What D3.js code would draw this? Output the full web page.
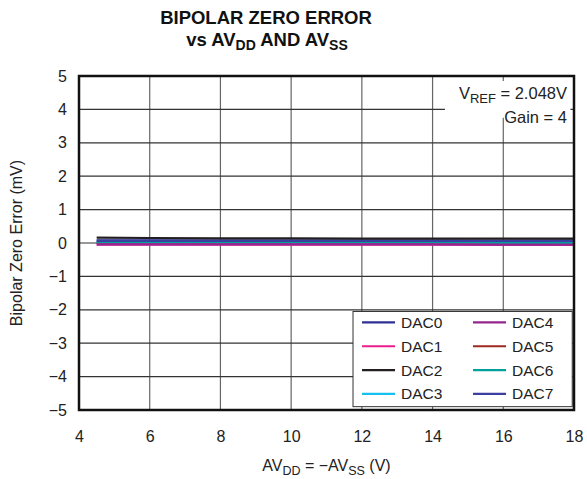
<!DOCTYPE html>
<html>
<head>
<meta charset="utf-8">
<script src="https://cdn.jsdelivr.net/npm/d3@7"></script>
<style>
  body { margin: 0; background: #fff; }
  svg { font-family: "Liberation Sans", Arial, Helvetica, sans-serif; }
</style>
</head>
<body>
<div id="chart"></div>
<script>
// supply voltage (V)
var supply = [4.5, 6, 8, 10, 12, 14, 16, 18]

// bipolar zero error (mV) per DAC channel
var dac0 = [0.07, 0.07, 0.07, 0.07, 0.07, 0.07, 0.07, 0.07]
var dac1 = [-0.05, -0.05, -0.05, -0.05, -0.05, -0.05, -0.06, -0.06]
var dac2 = [0.16, 0.15, 0.14, 0.14, 0.13, 0.13, 0.13, 0.13]
var dac3 = [0.03, 0.03, 0.03, 0.03, 0.03, 0.03, 0.03, 0.03]
var dac4 = [-0.04, -0.04, -0.04, -0.04, -0.04, -0.04, -0.05, -0.05]
var dac5 = [0.02, 0.02, 0.02, 0.02, 0.02, 0.02, 0.02, 0.02]
var dac6 = [0.01, 0.01, 0.01, 0.01, 0.01, 0.01, 0.0, 0.0]
var dac7 = [0.08, 0.08, 0.07, 0.07, 0.07, 0.07, 0.06, 0.07]

var names = ['DAC0', 'DAC1', 'DAC2', 'DAC3', 'DAC4', 'DAC5', 'DAC6', 'DAC7']
var colors = ['#2e3192', '#ec1c8c', '#231f20', '#17c0f0', '#93278f', '#9e2a22', '#00a19a', '#3b3fa0']
var seriesData = [dac0, dac1, dac2, dac3, dac4, dac5, dac6, dac7]

var xTicks = [4, 6, 8, 10, 12, 14, 16, 18]
var yTicks = [-5, -4, -3, -2, -1, 0, 1, 2, 3, 4, 5]

var W = 587, H = 479
var margin = { top: 76, right: 13, bottom: 69, left: 79 }
var w = W - margin.left - margin.right
var h = H - margin.top - margin.bottom

var svg = d3.select('#chart').append('svg')
  .attr('width', W)
  .attr('height', H)

// title
var title = svg.append('text')
  .attr('text-anchor', 'middle')
  .attr('font-weight', 'bold')
  .attr('font-size', 18.5)
  .attr('fill', '#111')
title.append('tspan').attr('x', 266).attr('y', 24).text('BIPOLAR ZERO ERROR')
var t2 = title.append('tspan').attr('x', 267).attr('y', 46)
t2.append('tspan').text('vs AV')
t2.append('tspan').attr('font-size', 14).attr('dy', 4).text('DD')
t2.append('tspan').attr('dy', -4).text(' AND AV')
t2.append('tspan').attr('font-size', 14).attr('dy', 4).text('SS')

var g = svg.append('g')
  .attr('transform', 'translate(' + margin.left + ',' + margin.top + ')')

var x = d3.scaleLinear().domain([4, 18]).range([0, w])
var y = d3.scaleLinear().domain([-5, 5]).range([h, 0])

// grid
g.append('g')
  .selectAll('line')
  .data(xTicks.slice(1, -1))
  .enter().append('line')
  .attr('x1', function(d) { return x(d) })
  .attr('x2', function(d) { return x(d) })
  .attr('y1', 0).attr('y2', h)
  .attr('stroke', '#666').attr('stroke-width', 1.2)

g.append('g')
  .selectAll('line')
  .data(yTicks.slice(1, -1))
  .enter().append('line')
  .attr('y1', function(d) { return y(d) })
  .attr('y2', function(d) { return y(d) })
  .attr('x1', 0).attr('x2', w)
  .attr('stroke', '#333').attr('stroke-width', 1.2)

// axes labels
var xAxis = g.append('g')
  .attr('transform', 'translate(0,' + h + ')')
  .call(d3.axisBottom(x).tickValues(xTicks).tickSize(0).tickPadding(21))
xAxis.select('.domain').remove()
xAxis.selectAll('text').attr('font-size', 16).attr('fill', '#222')
  .attr('font-family', '"Liberation Sans", Arial, sans-serif')

var yAxis = g.append('g')
  .call(d3.axisLeft(y).tickValues(yTicks).tickSize(0).tickPadding(12)
    .tickFormat(function(d) { return d < 0 ? '\u2212' + Math.abs(d) : d }))
yAxis.select('.domain').remove()
yAxis.selectAll('text').attr('font-size', 16).attr('fill', '#222')
  .attr('font-family', '"Liberation Sans", Arial, sans-serif')

// annotation
var note = g.append('g')
note.append('rect')
  .attr('x', x(14.35)).attr('y', y(4.85))
  .attr('width', x(17.9) - x(14.35)).attr('height', y(3.75) - y(4.85))
  .attr('fill', '#fff')
var n1 = note.append('text').attr('text-anchor', 'end').attr('font-size', 16.5)
  .attr('fill', '#222')
  .attr('x', w - 7).attr('y', y(4.5) + 6)
n1.append('tspan').text('V')
n1.append('tspan').attr('font-size', 13).attr('dy', 4).text('REF')
n1.append('tspan').attr('dy', -4).text(' = 2.048V')
note.append('text').attr('text-anchor', 'end').attr('font-size', 16.5)
  .attr('fill', '#222')
  .attr('x', w - 7).attr('y', y(3.78) + 6)
  .text('Gain = 4')

// lines
var line = d3.line()
  .x(function(d, i) { return x(supply[i]) })
  .y(function(d) { return y(d) })

var drawOrder = [5, 3, 6, 1, 4, 0, 7, 2]
drawOrder.forEach(function(k) {
  g.append('path')
    .datum(seriesData[k])
    .attr('d', line)
    .attr('fill', 'none')
    .attr('stroke', colors[k])
    .attr('stroke-width', 2.2)
})

// legend
var lx = x(11.75), ly = y(-2.05)
var legend = g.append('g').attr('transform', 'translate(' + lx + ',' + ly + ')')
legend.append('rect')
  .attr('width', x(17.95) - lx).attr('height', y(-4.9) - ly)
  .attr('fill', '#fff').attr('stroke', '#333').attr('stroke-width', 1)

var items = legend.selectAll('.legend')
  .data(names)
  .enter().append('g')
  .attr('class', 'legend')
  .attr('transform', function(d, i) {
    return 'translate(' + (i < 4 ? 9 : 120) + ',' + (11 + (i % 4) * 23.8) + ')'
  })
items.append('line')
  .attr('x1', 0).attr('x2', 33)
  .attr('stroke', function(d, i) { return colors[i] })
  .attr('stroke-width', 2.2)
items.append('text')
  .attr('x', 39).attr('y', 5.5)
  .attr('font-size', 15.5)
  .attr('fill', '#222')
  .text(function(d) { return d })

// border
g.append('rect')
  .attr('width', w).attr('height', h)
  .attr('fill', 'none').attr('stroke', '#111').attr('stroke-width', 2.5)

// axis titles
var xt = svg.append('text').attr('text-anchor', 'middle').attr('font-size', 16)
  .attr('fill', '#222')
  .attr('x', margin.left + w / 2).attr('y', 471)
xt.append('tspan').text('AV')
xt.append('tspan').attr('font-size', 12.5).attr('dy', 4).text('DD')
xt.append('tspan').attr('dy', -4).text(' = \u2212AV')
xt.append('tspan').attr('font-size', 12.5).attr('dy', 4).text('SS')
xt.append('tspan').attr('dy', -4).text(' (V)')

svg.append('text')
  .attr('text-anchor', 'middle').attr('font-size', 16)
  .attr('fill', '#222')
  .attr('transform', 'translate(22,' + (margin.top + h / 2) + ') rotate(-90)')
  .text('Bipolar Zero Error (mV)')
</script>
</body>
</html>
